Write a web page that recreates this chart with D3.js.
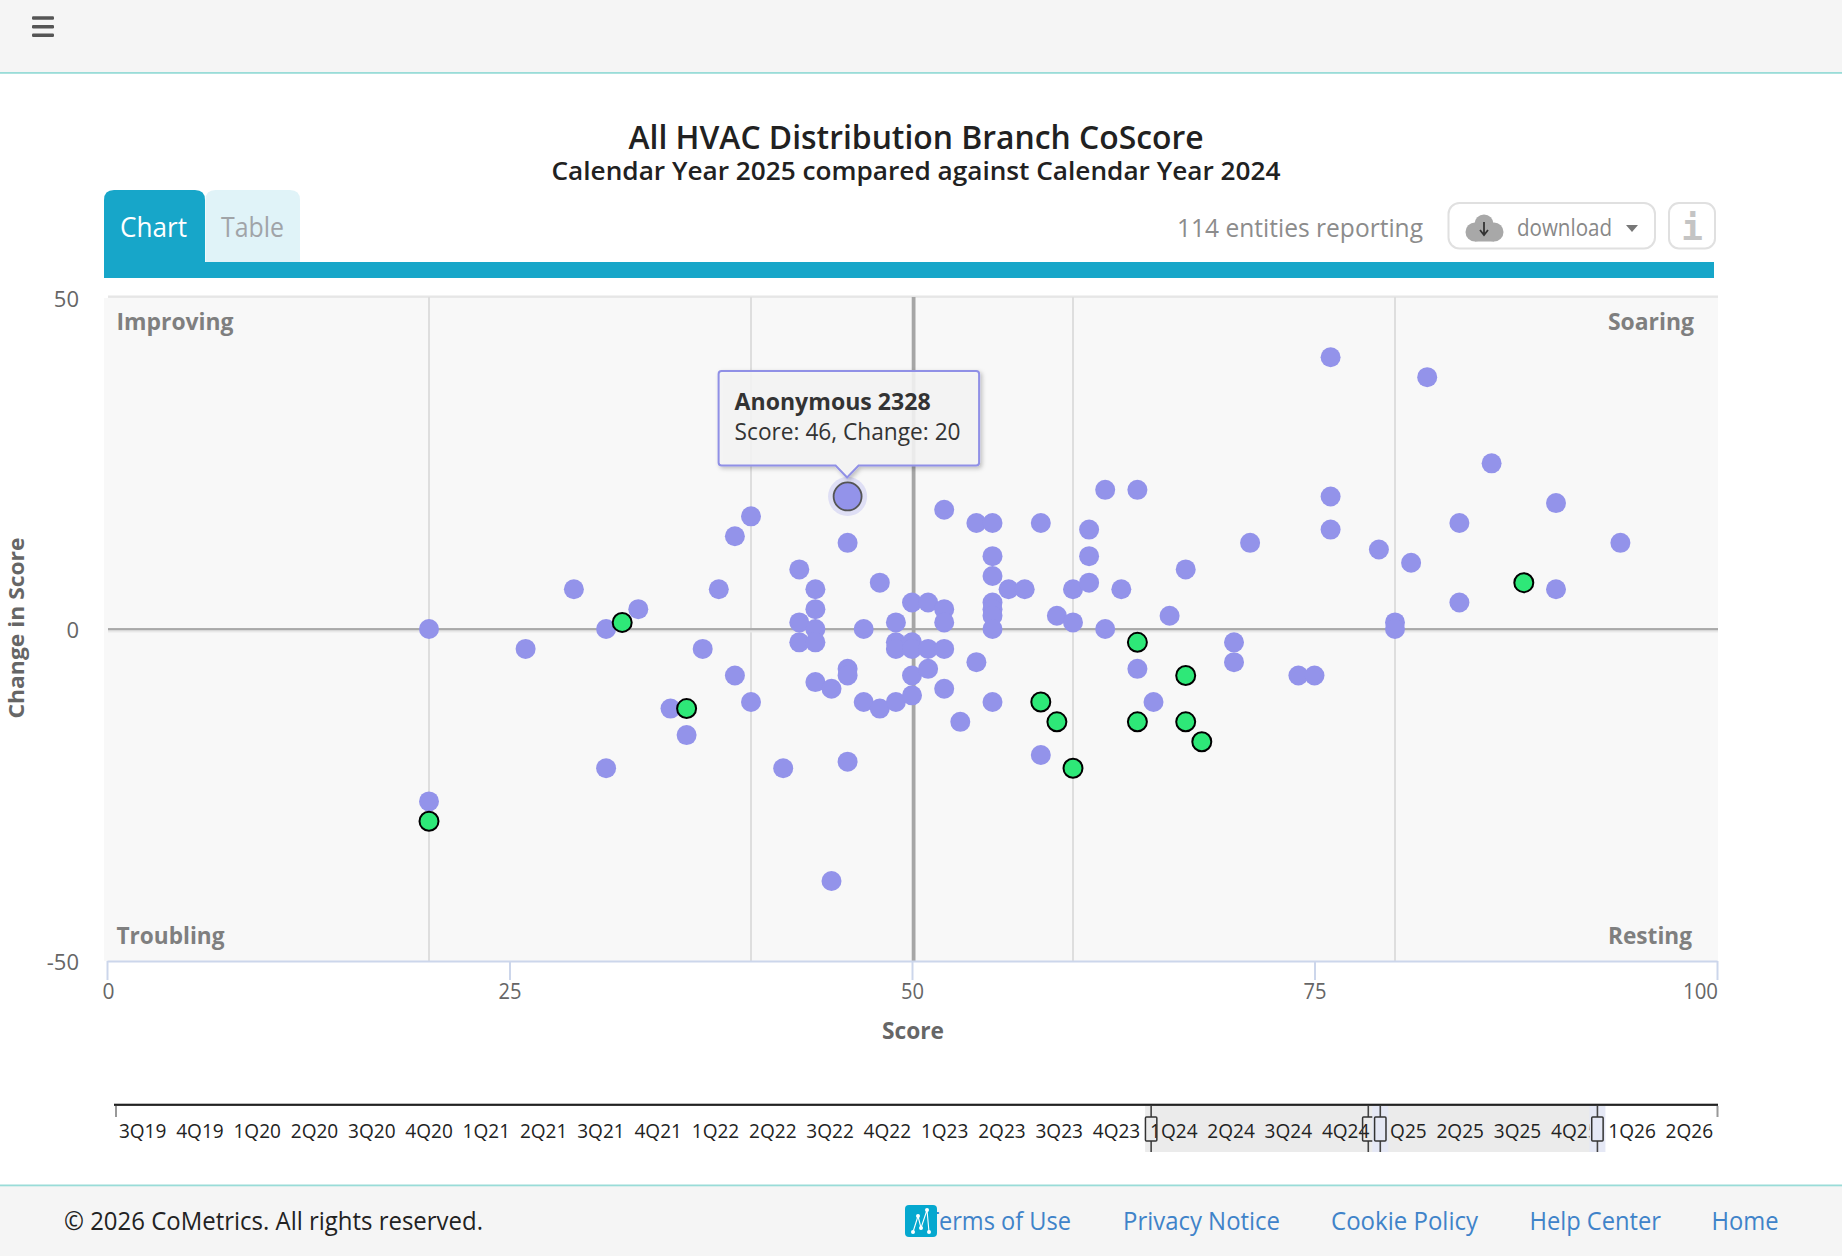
<!DOCTYPE html>
<html>
<head>
<meta charset="utf-8">
<title>All HVAC Distribution Branch CoScore</title>
<script src="https://cdn.jsdelivr.net/npm/d3@7"></script>
<style>
  html, body { margin: 0; padding: 0; background: #fff; overflow: hidden; }
  svg { display: block; font-family: "Open Sans", "Noto Sans", sans-serif; }
</style>
</head>
<body>
<svg id="page" width="1842" height="1256"></svg>
<script>
// Branch scores and their year-over-year change.
const branchScores = [
  20,26,29,31,31,33,38,37,39,39,40,40,35,36,42,43,43,43,44,44,44,44,44,45,45,
  46,46,46,46,47,47,48,48,49,49,49,49,50,50,50,50,50,51,51,51,52,52,52,52,52,
  53,54,54,55,55,55,55,55,55,55,55,56,57,58,58,59,60,60,61,61,61,62,62,63,
  64,64,65,66,67,70,70,71,74,75,76,76,76,79,80,80,81,82,84,84,86,90,90,94,20
];
const branchChanges = [
  0,-3,6,0,-21,3,6,-3,14,-7,17,-11,-12,-16,-21,9,1,-2,6,3,0,-2,-8,-9,-38,
  13,-6,-7,-20,0,-11,7,-12,1,-2,-3,-11,4,-2,-3,-7,-10,4,-3,-6,18,3,1,-3,-9,
  -14,16,-5,16,11,8,4,3,2,0,-11,6,6,16,-19,2,6,1,15,11,7,21,0,6,
  21,-6,-11,2,9,-2,-5,13,-7,-7,41,20,15,12,1,0,10,38,16,4,25,19,6,13,-26
];
// Branches flagged in green.
const flaggedScores  = [20,32,36,58,59,60,64,64,67,67,68,88];
const flaggedChanges = [-29,1,-12,-11,-14,-21,-2,-14,-7,-14,-17,7];
// The branch under the pointer.
const activeName = "Anonymous 2328";
const activeScore = 46;
const activeChange = 20;
// Median score marker and reference grid.
const medianScore = 50.1;
const scoreGrid = [20, 40, 60, 80];
const scoreTicks = [0, 25, 50, 75, 100];
const changeTicks = [-50, 0, 50];
// Quarter slider.
const quarters = ["3Q19","4Q19","1Q20","2Q20","3Q20","4Q20","1Q21","2Q21","3Q21","4Q21","1Q22","2Q22","3Q22","4Q22",
  "1Q23","2Q23","3Q23","4Q23","1Q24","2Q24","3Q24","4Q24","1Q25","2Q25","3Q25","4Q25","1Q26","2Q26"];
const baseRange = ["1Q24", "4Q24"];
const compareRange = ["1Q25", "4Q25"];
// Footer navigation: label, left edge, right edge.
const footerLinks = ["Terms of Use", "Privacy Notice", "Cookie Policy", "Help Center", "Home"];
const footerLinkLeft = [926, 1123, 1331, 1529.5, 1711.5];
const footerLinkRight = [1071, 1280, 1478, 1661, 1778.5];

const svg = d3.select("#page");
const defs = svg.append("defs");
const shadow = defs.append("filter").attr("id", "tipShadow").attr("x", "-10%").attr("y", "-15%").attr("width", "125%").attr("height", "140%");
shadow.append("feDropShadow").attr("dx", 2).attr("dy", 2).attr("stdDeviation", 2).attr("flood-color", "#000").attr("flood-opacity", 0.25);

// Draws one line of text, optionally fitted to a known width.
function text(parent, str, x, y, o = {}) {
  const t = parent.append("text").attr("x", x).attr("y", y)
    .attr("font-size", o.size || 22).attr("fill", o.fill || "#222")
    .attr("font-weight", o.weight || 400).attr("text-anchor", o.anchor || "start").text(str);
  if (o.width) t.attr("textLength", o.width).attr("lengthAdjust", "spacingAndGlyphs");
  if (o.family) t.attr("font-family", o.family);
  return t;
}

/* ---------- page chrome ---------- */
svg.append("rect").attr("width", 1842).attr("height", 72).attr("fill", "#f5f5f5");
svg.append("rect").attr("y", 72).attr("width", 1842).attr("height", 1.8).attr("fill", "#99dcd8");
[18, 26.7, 35.2].forEach(y => svg.append("rect").attr("x", 32).attr("y", y - 1.8).attr("width", 22).attr("height", 3.6).attr("rx", 1.2).attr("fill", "#555"));

text(svg, "All HVAC Distribution Branch CoScore", 916, 149, { size: 32, anchor: "middle", width: 575, fill: "#212121", weight: 600 });
text(svg, "Calendar Year 2025 compared against Calendar Year 2024", 916, 180, { size: 25, anchor: "middle", width: 729, fill: "#212121", weight: 600 });

/* ---------- tabs and toolbar ---------- */
const tabPath = (x0, x1, y0, y1, r) => `M${x0},${y1}V${y0 + r}Q${x0},${y0} ${x0 + r},${y0}H${x1 - r}Q${x1},${y0} ${x1},${y0 + r}V${y1}Z`;
svg.append("path").attr("d", tabPath(205.5, 300, 190, 262, 10)).attr("fill", "#e0f3f8");
svg.append("path").attr("d", tabPath(104, 205, 190, 263, 10)).attr("fill", "#17a6c9");
svg.append("rect").attr("x", 104).attr("y", 262).attr("width", 1610).attr("height", 16).attr("fill", "#17a6c9");
text(svg, "Chart", 120, 237, { size: 27, fill: "#fff", width: 67 });
text(svg, "Table", 221, 237, { size: 27, fill: "#a0a4a8", width: 63 });
text(svg, "114 entities reporting", 1177, 236.5, { size: 25, fill: "#8c8c8c", width: 246 });

svg.append("rect").attr("x", 1448.5).attr("y", 203).attr("width", 206.5).attr("height", 45.5).attr("rx", 11)
  .attr("fill", "#fff").attr("stroke", "#e0e0e0").attr("stroke-width", 2);
const cloud = svg.append("g").attr("fill", "#a8a8a8");
cloud.append("circle").attr("cx", 1475).attr("cy", 232).attr("r", 9.5);
cloud.append("circle").attr("cx", 1484).attr("cy", 224).attr("r", 9.5);
cloud.append("circle").attr("cx", 1494).attr("cy", 232).attr("r", 9.5);
cloud.append("rect").attr("x", 1475).attr("y", 226).attr("width", 19).attr("height", 15.5);
svg.append("path").attr("d", "M1484,222V234M1480,230L1484,235L1488,230").attr("fill", "none").attr("stroke", "#333").attr("stroke-width", 1.8);
text(svg, "download", 1517, 236, { size: 23, fill: "#888", width: 95 });
svg.append("path").attr("d", "M1626,225H1638L1632,232Z").attr("fill", "#777");

svg.append("rect").attr("x", 1669).attr("y", 203).attr("width", 46).attr("height", 45.5).attr("rx", 10)
  .attr("fill", "#fff").attr("stroke", "#e0e0e0").attr("stroke-width", 2);
text(svg, "i", 1692, 240, { size: 36, anchor: "middle", fill: "#c4c4c4", weight: 700, family: "'DejaVu Sans Mono', monospace" });

/* ---------- scatter ---------- */
const x = d3.scaleLinear().domain([0, 100]).range([107, 1717]);
const y = d3.scaleLinear().domain([-50, 50]).range([960.5, 297.6]);

svg.append("rect").attr("x", 104).attr("y", 298).attr("width", 1614).attr("height", 663).attr("fill", "#f8f8f8");
svg.append("rect").attr("x", 108).attr("y", 295.5).attr("width", 1610).attr("height", 2.4).attr("fill", "#e6e6e6");

// Reference lines
svg.append("g").selectAll("line").data(scoreGrid).join("line")
  .attr("x1", d => x(d)).attr("x2", d => x(d)).attr("y1", 297).attr("y2", 961)
  .attr("stroke", "#dedede").attr("stroke-width", 2);
svg.append("rect").attr("x", 108).attr("y", y(0) + 1).attr("width", 1610).attr("height", 2.4).attr("fill", "#e8e8e8");
svg.append("rect").attr("x", 108).attr("y", y(0) - 1).attr("width", 1610).attr("height", 2.2).attr("fill", "#a9a9a9");
svg.append("line").attr("x1", x(medianScore)).attr("x2", x(medianScore)).attr("y1", 297).attr("y2", 961)
  .attr("stroke", "#a6a6a6").attr("stroke-width", 3.8);

// Axes
const xAxis = svg.append("g").attr("transform", "translate(0,961)")
  .call(d3.axisBottom(x).tickValues(scoreTicks).tickSize(19).tickPadding(3).tickSizeOuter(0));
xAxis.select(".domain").attr("stroke", "#ccd6eb").attr("stroke-width", 2.2);
xAxis.selectAll(".tick line").attr("stroke", "#ccd6eb").attr("stroke-width", 2);
xAxis.selectAll("text").attr("font-size", 22).attr("font-family", "'Open Sans'").attr("fill", "#666")
  .attr("textLength", d => d === 100 ? 35 : (d === 0 ? 12 : 23)).attr("lengthAdjust", "spacingAndGlyphs")
  .attr("dx", d => d === 0 ? 1 : d === 100 ? -17 : 0);

const yAxis = svg.append("g").attr("transform", "translate(107,0)")
  .call(d3.axisLeft(y).tickValues(changeTicks).tickFormat(d => String(d)).tickSize(0).tickPadding(28));
yAxis.select(".domain").remove();
yAxis.selectAll("text").attr("font-size", 22).attr("font-family", "'Open Sans'").attr("fill", "#666").attr("dy", "0.4em");

text(svg, "Score", 913, 1039, { size: 24, anchor: "middle", fill: "#666", weight: 700, width: 62 });
svg.append("g").attr("transform", "translate(24,628) rotate(-90)").call(g =>
  text(g, "Change in Score", 0, 0, { size: 22, anchor: "middle", fill: "#666", weight: 700, width: 181 }));

// Quadrant captions
const quadrantStyle = { size: 24, fill: "#7f7f7f", weight: 700 };
text(svg, "Improving", 116.5, 330, { ...quadrantStyle, width: 117 });
text(svg, "Troubling", 116.5, 944, { ...quadrantStyle, width: 108 });
text(svg, "Soaring", 1694, 330, { ...quadrantStyle, anchor: "end", width: 86 });
text(svg, "Resting", 1692, 944, { ...quadrantStyle, anchor: "end", width: 84 });

// Points
svg.append("g").selectAll("circle").data(d3.range(branchScores.length)).join("circle")
  .attr("cx", i => x(branchScores[i])).attr("cy", i => y(branchChanges[i]))
  .attr("r", 10).attr("fill", "#9393ea");
svg.append("g").selectAll("circle").data(d3.range(flaggedScores.length)).join("circle")
  .attr("cx", i => x(flaggedScores[i])).attr("cy", i => y(flaggedChanges[i]))
  .attr("r", 9.5).attr("fill", "#2ee878").attr("stroke", "#000").attr("stroke-width", 2);

// Hovered point with halo
svg.append("circle").attr("cx", x(activeScore)).attr("cy", y(activeChange)).attr("r", 19.5).attr("fill", "#9393ea").attr("opacity", 0.25);
svg.append("circle").attr("cx", x(activeScore)).attr("cy", y(activeChange)).attr("r", 14)
  .attr("fill", "#9393ea").attr("stroke", "#555").attr("stroke-width", 1.8);

// Tooltip anchored above the hovered point
const tipX = x(activeScore), tipBottom = y(activeChange) - 31, tipTop = tipBottom - 94.5;
const tipLeft = tipX - 129, tipRight = tipX + 131.5, r = 3;
const tipOutline = `M${tipLeft + r},${tipTop}H${tipRight - r}Q${tipRight},${tipTop} ${tipRight},${tipTop + r}V${tipBottom - r}Q${tipRight},${tipBottom} ${tipRight - r},${tipBottom}` +
  `H${tipX + 11}L${tipX - 0.5},${tipBottom + 12}L${tipX - 12},${tipBottom}H${tipLeft + r}Q${tipLeft},${tipBottom} ${tipLeft},${tipBottom - r}V${tipTop + r}Q${tipLeft},${tipTop} ${tipLeft + r},${tipTop}Z`;
svg.append("path").attr("d", tipOutline).attr("fill", "#f7f7f7").attr("fill-opacity", 0.86)
  .attr("stroke", "#9090e6").attr("stroke-width", 2).attr("filter", "url(#tipShadow)");
text(svg, activeName, tipLeft + 16, tipTop + 39.5, { size: 23, weight: 700, fill: "#333", width: 196 });
text(svg, `Score: ${activeScore}, Change: ${activeChange}`, tipLeft + 16, tipTop + 69.5, { size: 23, fill: "#333", width: 226 });

/* ---------- quarter slider ---------- */
const q = d3.scaleBand().domain(quarters).range([114, 1718]);
const sliderTop = 1106, sliderBottom = 1152;
const ranges = [baseRange, compareRange].map(([a, b]) => ({ x0: q(a), x1: q(b) + q.bandwidth() }));

svg.append("g").selectAll("rect").data(ranges).join("rect")
  .attr("x", d => d.x0).attr("y", sliderTop).attr("width", d => d.x1 - d.x0).attr("height", sliderBottom - sliderTop)
  .attr("fill", "#ebebeb");
svg.append("rect").attr("x", 114).attr("y", 1103.7).attr("width", 1604).attr("height", 2.2).attr("fill", "#222");
[116, 1717.5].forEach(px => svg.append("line").attr("x1", px).attr("x2", px).attr("y1", sliderTop).attr("y2", 1117).attr("stroke", "#999").attr("stroke-width", 2));

const sliderAxis = svg.append("g").attr("transform", "translate(0,1120)")
  .call(d3.axisBottom(q).tickSize(0).tickPadding(0));
sliderAxis.select(".domain").remove();
sliderAxis.selectAll("text").attr("font-size", 20).attr("font-family", "'Open Sans'").attr("fill", "#222")
  .attr("dy", "0.9em").attr("textLength", 47.5).attr("lengthAdjust", "spacingAndGlyphs");

// Range handles; the second range's sit on top of the labels with a tinted fill.
const handles = ranges.flatMap((d, i) => [d.x0 + 6, d.x1 - 6].map(px => ({ px, i })));
const handle = svg.append("g").selectAll("g").data(handles).join("g");
handle.filter(d => d.i === 1).append("rect").attr("x", d => d.px - 8).attr("y", sliderTop).attr("width", 16).attr("height", sliderBottom - sliderTop).attr("fill", "#e5e8f5");
handle.append("line").attr("x1", d => d.px).attr("x2", d => d.px).attr("y1", sliderTop).attr("y2", 1117).attr("stroke", "#444").attr("stroke-width", 1.6);
handle.append("line").attr("x1", d => d.px).attr("x2", d => d.px).attr("y1", 1141).attr("y2", sliderBottom).attr("stroke", "#444").attr("stroke-width", 1.6);
handle.append("rect").attr("x", d => d.px - 5.7).attr("y", 1117).attr("width", 11.4).attr("height", 24).attr("rx", 1)
  .attr("fill", d => d.i === 1 ? "#e5e8f5" : "none")
  .attr("stroke", "#333").attr("stroke-width", 1.5);

/* ---------- footer ---------- */
svg.append("rect").attr("y", 1186).attr("width", 1842).attr("height", 70).attr("fill", "#f5f5f5");
svg.append("rect").attr("y", 1184.5).attr("width", 1842).attr("height", 1.8).attr("fill", "#99dcd8");
text(svg, "© 2026 CoMetrics. All rights reserved.", 64, 1230, { size: 25, fill: "#222", width: 419 });

svg.append("g").selectAll("text").data(footerLinks).join("text")
  .attr("x", (d, i) => footerLinkLeft[i]).attr("y", 1230).attr("font-size", 25).attr("fill", "#3f83c9")
  .attr("textLength", (d, i) => footerLinkRight[i] - footerLinkLeft[i]).attr("lengthAdjust", "spacingAndGlyphs").text(d => d);

const logo = svg.append("g").attr("transform", "translate(905,1205)");
logo.append("rect").attr("width", 32).attr("height", 32).attr("rx", 4).attr("fill", "#05a8cf");
const logoPts = [[8, 27], [13, 11], [16, 23], [22, 5], [24, 27]];
logo.append("path").attr("d", d3.line()(logoPts)).attr("fill", "none").attr("stroke", "#fff").attr("stroke-width", 1.1);
logo.selectAll("circle").data(logoPts).join("circle").attr("cx", d => d[0]).attr("cy", d => d[1]).attr("r", 2).attr("fill", "#fff");
</script>
</body>
</html>
